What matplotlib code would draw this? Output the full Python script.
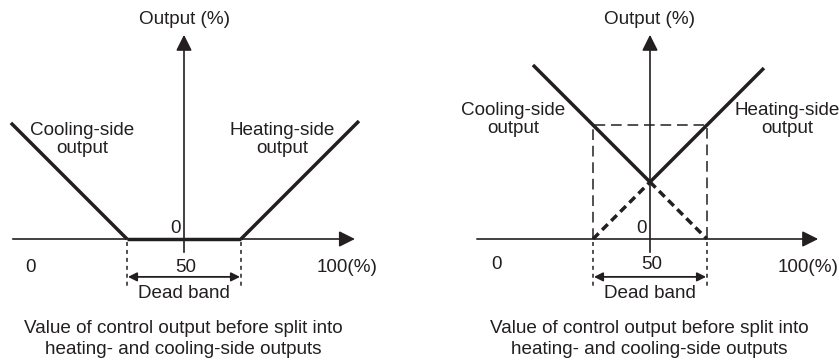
import matplotlib
matplotlib.use("Agg")
import matplotlib.pyplot as plt
import numpy as np

plt.rcParams['font.family'] = ['Liberation Sans', 'DejaVu Sans']

INK = '#231f20'

# Control output before split (%), dead band edges
dead_band = [31.5, 68.5]

# Left diagram: outputs separated by a dead band
left_cool_x = [-6.2, 31.5]
left_cool_y = [37.7, 0.0]
left_heat_x = [68.5, 106.8]
left_heat_y = [0.0, 38.3]

# Right diagram: overlapping outputs (negative dead band)
right_cool_x = [12.0, 50.0]
right_cool_y = [56.5, 18.5]
right_cool_dash_x = [50.0, 68.5]
right_cool_dash_y = [18.5, 0.0]
right_heat_x = [50.0, 87.0]
right_heat_y = [18.5, 55.5]
right_heat_dash_x = [31.5, 50.0]
right_heat_dash_y = [0.0, 18.5]
box_top = 37.0

tick_labels = ['0', '50', '100(%)']
caption = ['Value of control output before split into',
           'heating- and cooling-side outputs']

FS = 13.6
W, H = 839, 363
fig = plt.figure(figsize=(W / 100, H / 100), dpi=100)

scale = 3.08  # pixels per unit


def make_axes(left_px, width_px, origin_px):
    ax = fig.add_axes([left_px / W, 0, width_px / W, 1])
    ax.set_xlim((left_px - origin_px) / scale, (left_px + width_px - origin_px) / scale)
    ax.set_ylim(-124 / scale, 239 / scale)
    ax.axis('off')
    return ax


def draw_frame(ax, x0, x1, tick_y, tick_x100):
    # horizontal axis with arrow
    ax.annotate('', xy=(x1, 0), xytext=(x0, 0),
                arrowprops=dict(arrowstyle='-|>', mutation_scale=24, lw=1.2,
                                color=INK, shrinkA=0, shrinkB=0))
    # vertical axis with arrow
    ax.annotate('', xy=(50, 66.3), xytext=(50, -4.3),
                arrowprops=dict(arrowstyle='-|>', mutation_scale=24, lw=1.2,
                                color=INK, shrinkA=0, shrinkB=0))
    ax.text(50, 71.2, 'Output (%)', ha='center', va='center', fontsize=FS, color=INK)
    ax.text(0, tick_y, tick_labels[0], ha='center', va='center', fontsize=FS, color=INK)
    ax.text(50.5, tick_y, tick_labels[1], ha='center', va='center', fontsize=FS, color=INK)
    ax.text(tick_x100, -9.1, tick_labels[2], ha='center', va='center', fontsize=FS, color=INK)
    ax.text(47.2, 3.4, '0', ha='center', va='center', fontsize=FS, color=INK)
    # dead band markers
    for xb in dead_band:
        ax.plot([xb, xb], [-1.0, -15.6], color=INK, lw=1.1, dashes=(2.6, 2.6))
    ax.annotate('', xy=(dead_band[1] - 0.3, -12.3), xytext=(dead_band[0] + 0.3, -12.3),
                arrowprops=dict(arrowstyle='<|-|>', mutation_scale=13, lw=1.3,
                                color=INK, shrinkA=0, shrinkB=0))
    ax.text(50, -17.8, 'Dead band', ha='center', va='center', fontsize=FS, color=INK)
    ax.text(49.7, -28.9, caption[0], ha='center', va='center', fontsize=FS, color=INK)
    ax.text(49.7, -36.0, caption[1], ha='center', va='center', fontsize=FS, color=INK)


# Left panel
axL = make_axes(0, 420, 30)
draw_frame(axL, -5.6, 105.5, -9.1, 103.0)
axL.plot(left_cool_x, left_cool_y, color=INK, lw=2.5, solid_capstyle='butt')
axL.plot(dead_band, [0, 0], color=INK, lw=2.5, solid_capstyle='butt')
axL.plot(left_heat_x, left_heat_y, color=INK, lw=2.5, solid_capstyle='butt')
axL.text(16.9, 32.4, 'Cooling-side\noutput', ha='center', va='center',
         fontsize=FS, color=INK, linespacing=1.05)
axL.text(81.8, 32.4, 'Heating-side\noutput', ha='center', va='center',
         fontsize=FS, color=INK, linespacing=1.05)

# Right panel
axR = make_axes(420, 419, 496)
draw_frame(axR, -6.2, 104.6, -8.2, 101.3)
axR.plot(right_cool_x, right_cool_y, color=INK, lw=2.5, solid_capstyle='butt')
axR.plot(right_heat_x, right_heat_y, color=INK, lw=2.5, solid_capstyle='butt')
axR.plot(right_cool_dash_x, right_cool_dash_y, color=INK, lw=2.5, dashes=(2.3, 1.4))
axR.plot(right_heat_dash_x, right_heat_dash_y, color=INK, lw=2.5, dashes=(2.3, 1.4))
axR.plot([dead_band[0], dead_band[0], dead_band[1], dead_band[1]],
         [0, box_top, box_top, 0], color=INK, lw=1.1, dashes=(7, 3.8))
axR.text(5.5, 38.7, 'Cooling-side\noutput', ha='center', va='center',
         fontsize=FS, color=INK, linespacing=1.05)
axR.text(94.5, 38.7, 'Heating-side\noutput', ha='center', va='center',
         fontsize=FS, color=INK, linespacing=1.05)

fig.savefig('out.png', dpi=100, facecolor='white')
